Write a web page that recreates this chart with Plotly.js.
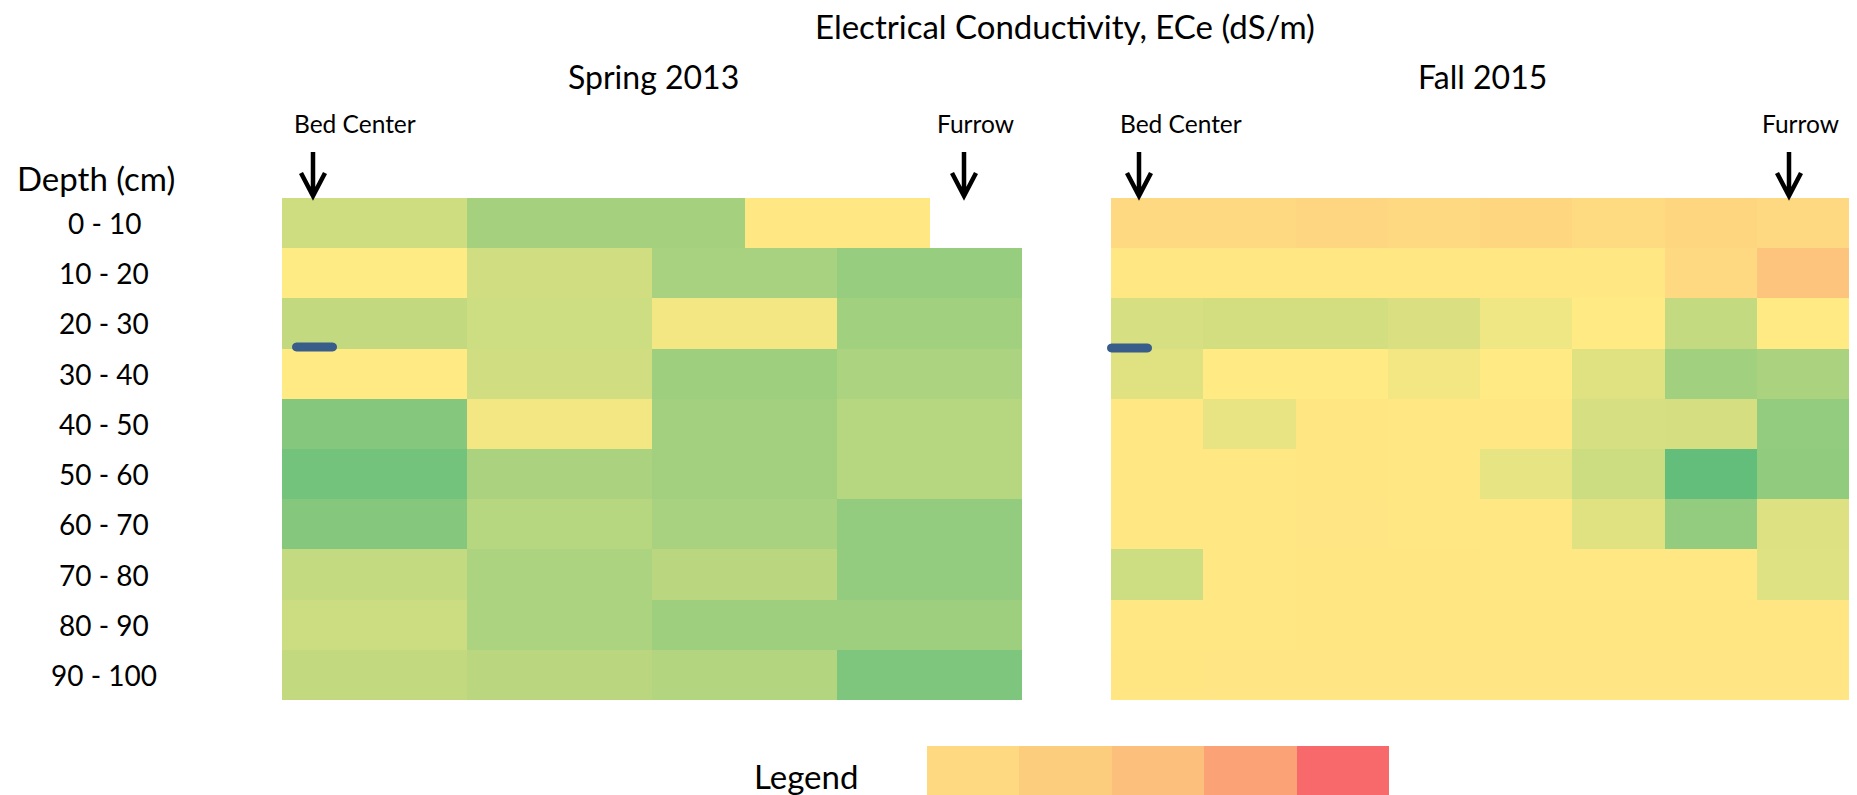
<!DOCTYPE html>
<html>
<head>
<meta charset="utf-8">
<script src="https://cdn.plot.ly/plotly-3.0.1.min.js"></script>
<style>html,body{margin:0;padding:0;background:#fff;}#chart{width:1857px;height:795px;}</style>
</head>
<body>
<div id="chart"></div>
<script>
// ---- data (relative ECe on the colour scale: 0 = green, 1 = yellow, 2 = red) ----
const depths = ["0 - 10","10 - 20","20 - 30","30 - 40","40 - 50","50 - 60","60 - 70","70 - 80","80 - 90","90 - 100"];
const spring2013Cols = [0,1,2,3,4,5,6,7];   // half-column grid (0-10 row is offset by half a column)
const spring2013 = [
  [0.69,0.69,0.42,0.42,0.42,1.02,1.02,null],
  [1.00,1.00,0.70,0.70,0.44,0.44,0.33,0.33],
  [0.61,0.61,0.68,0.68,0.92,0.92,0.40,0.40],
  [1.01,1.01,0.70,0.70,0.38,0.38,0.47,0.47],
  [0.22,0.22,0.92,0.92,0.41,0.41,0.54,0.54],
  [0.10,0.10,0.46,0.46,0.41,0.41,0.54,0.54],
  [0.22,0.22,0.54,0.54,0.44,0.44,0.31,0.31],
  [0.62,0.62,0.47,0.47,0.56,0.56,0.31,0.31],
  [0.67,0.67,0.47,0.47,0.38,0.38,0.38,0.38],
  [0.61,0.61,0.56,0.56,0.51,0.51,0.17,0.17]
];
const fall2015Cols = [0,1,2,3,4,5,6,7];
const fall2015 = [
  [1.14,1.14,1.17,1.14,1.16,1.12,1.16,1.14],
  [1.03,1.02,1.02,1.02,1.03,1.02,1.14,1.30],
  [0.74,0.72,0.72,0.76,0.90,1.01,0.62,1.01],
  [0.80,1.01,1.01,0.92,1.01,0.80,0.40,0.46],
  [1.02,0.85,1.04,1.02,1.02,0.74,0.73,0.31],
  [1.02,1.02,1.04,1.02,0.84,0.67,0.00,0.29],
  [1.02,1.02,1.05,1.02,1.02,0.80,0.31,0.78],
  [0.68,1.02,1.04,1.04,1.03,1.02,1.02,0.79],
  [1.03,1.03,1.04,1.04,1.04,1.04,1.04,1.04],
  [1.04,1.05,1.05,1.05,1.05,1.05,1.05,1.05]
];
const legendVals = [1.14,1.23,1.34,1.56,2.00];
const legendCols = [0,1,2,3,4];

// ---- layout helpers ----
const W = 1857, H = 795;
const X = p => p / W;
const Y = p => 1 - p / H;
const FONT = "Lato, 'Open Sans', sans-serif";
const colorscale = [[0,'#63BE7B'],[0.5,'#FFEB84'],[1,'#F8696B']];

const hm = (x, z, xa, ya) => ({
  type:'heatmap', x:x, y: (ya==='y'? depths : ['L']), z:z, xaxis:xa, yaxis:ya,
  colorscale:colorscale, zmin:0, zmax:2, showscale:false, hoverongaps:false, xgap:0, ygap:0
});

const traces = [
  hm(spring2013Cols, spring2013, 'x', 'y'),
  hm(fall2015Cols, fall2015, 'x2', 'y'),
  hm(legendCols, [legendVals], 'x3', 'y2')
];

const annotations = [];
function txt(t, xpx, ypx, size, extra) {
  annotations.push(Object.assign({text:t, x:X(xpx), y:Y(ypx), xref:'paper', yref:'paper',
    showarrow:false, xanchor:'center', yanchor:'middle', font:{family:FONT, size:size, color:'#000'}}, extra||{}));
}
txt('Electrical Conductivity, ECe (dS/m)', 1065, 26, 33);
txt('Spring 2013', 653, 77, 32);
txt('Fall 2015', 1482, 77, 32);
txt('Bed Center', 355, 124, 24.5);
txt('Furrow', 975, 124, 24.5);
txt('Bed Center', 1181, 124, 24.5);
txt('Furrow', 1800, 124, 24.5);
txt('Depth (cm)', 96, 178, 33);
txt('Legend', 806, 776, 33);
depths.forEach(d => annotations.push({text:d, x:X(104), xref:'paper', y:d, yref:'y', showarrow:false,
  xanchor:'center', yanchor:'middle', font:{family:FONT, size:28, color:'#000'}}));

const shapes = [];
function arrow(xc) {
  const p = `M${X(xc)},${Y(152)} L${X(xc)},${Y(196)} M${X(xc-12)},${Y(173)} L${X(xc)},${Y(196)} L${X(xc+12)},${Y(173)}`;
  shapes.push({type:'path', path:p, xref:'paper', yref:'paper', line:{color:'#000', width:4.5}});
}
[313, 964, 1139, 1789].forEach(arrow);
function dash(x1, x2, yc) {
  const r = 4.5, k = r * 4 / 3;
  const p = `M${X(x1+r)},${Y(yc-r)} L${X(x2-r)},${Y(yc-r)} C${X(x2-r+k)},${Y(yc-r)} ${X(x2-r+k)},${Y(yc+r)} ${X(x2-r)},${Y(yc+r)} L${X(x1+r)},${Y(yc+r)} C${X(x1+r-k)},${Y(yc+r)} ${X(x1+r-k)},${Y(yc-r)} ${X(x1+r)},${Y(yc-r)} Z`;
  shapes.push({type:'path', path:p, xref:'paper', yref:'paper', fillcolor:'#385D8A', line:{width:0}});
}
dash(292, 337, 347);
dash(1107, 1152, 348);

const hidden = {visible:false, showgrid:false, zeroline:false, fixedrange:true};
const layout = {
  width:W, height:H, margin:{l:0, r:0, t:0, b:0}, paper_bgcolor:'#fff', plot_bgcolor:'rgba(0,0,0,0)',
  showlegend:false, font:{family:FONT},
  xaxis: Object.assign({domain:[X(282), X(1022)], range:[-0.5,7.5], anchor:'y'}, hidden),
  xaxis2: Object.assign({domain:[X(1111), X(1849)], range:[-0.5,7.5], anchor:'y'}, hidden),
  xaxis3: Object.assign({domain:[X(927), X(1389)], range:[-0.5,4.5], anchor:'y2'}, hidden),
  yaxis: Object.assign({domain:[Y(700), Y(198)], type:'category', categoryarray:depths, range:[9.5,-0.5], anchor:'x'}, hidden),
  yaxis2: Object.assign({domain:[0, Y(746)], range:[-0.5,0.5], anchor:'x3', type:'category'}, hidden),
  annotations: annotations,
  shapes: shapes
};
Plotly.newPlot('chart', traces, layout, {displayModeBar:false, staticPlot:true});
</script>
</body>
</html>
